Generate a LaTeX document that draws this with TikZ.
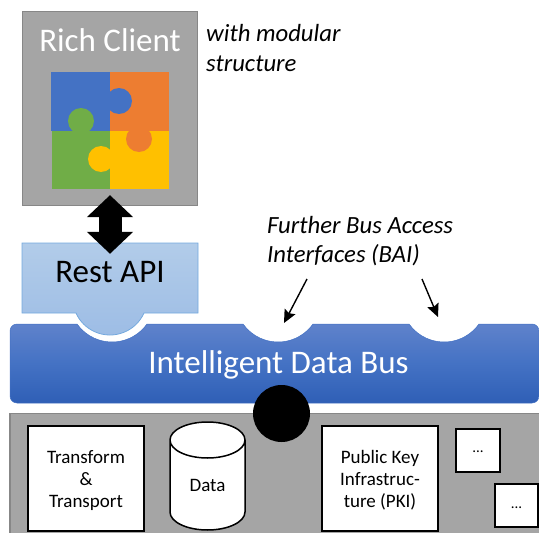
\documentclass[tikz,border=0pt]{standalone}
\usepackage{fontspec}
\setmainfont{Carlito}
\usetikzlibrary{arrows.meta}
\definecolor{panelgray}{HTML}{A5A5A5}
\definecolor{panelline}{HTML}{878787}
\definecolor{pblue}{HTML}{4472C4}
\definecolor{porange}{HTML}{ED7D31}
\definecolor{pgreen}{HTML}{70AD47}
\definecolor{pyellow}{HTML}{FFC000}
\definecolor{bustop}{HTML}{5F82CB}
\definecolor{busbot}{HTML}{2F5FB6}
\definecolor{resttop}{HTML}{B2CCE9}
\definecolor{restbot}{HTML}{9CBCE5}
\definecolor{restedge}{HTML}{74A9DE}
\tikzset{
  panel/.style={draw=panelline,line width=1.3pt,fill=panelgray},
  whitebox/.style={draw=black,line width=1.5pt,fill=white,inner sep=0pt,align=center,font=\fontsize{19}{22}\selectfont},
  dotbox/.style={draw=black,line width=1.5pt,fill=white,inner sep=0pt,text depth=0pt},
  notearrow/.style={draw=black,line width=1.4pt,-{Stealth[length=13pt,width=12pt,inset=2pt]}},
  note/.style={anchor=west,inner sep=0pt,font=\fontsize{24.7}{29}\selectfont\itshape},
  big/.style={inner sep=0pt,font=\fontsize{33}{36}\selectfont},
}
\begin{document}
\begin{tikzpicture}[x=1pt,y=-1pt]
\useasboundingbox (0,0) rectangle (539,533);
\clip (0,0) rectangle (539,533);
% bottom panel
\path[panel] (10,413.5) -- (545,413.5) -- (545,540) -- (10,540) -- cycle;
% rich client
\node[panel,minimum width=175pt,minimum height=194pt,inner sep=0pt] (client) at (110,108.5) {};
\node[big,text=white] (clienttitle) at (110,40) {Rich Client};
% puzzle
\fill[pblue] (51,72) rectangle (110,131);
\fill[porange] (110,72) rectangle (169,131);
\fill[pgreen] (52,131) rectangle (110,189);
\fill[pyellow] (110,131) rectangle (169,189);
\fill[pblue] (119,101) circle (13);
\fill[pgreen] (81,121) circle (13);
\fill[porange] (139,139) circle (13);
\fill[pyellow] (101,159) circle (13);
% bus
\path[draw=pblue,line width=0.5pt,top color=bustop,bottom color=busbot,middle color=pblue]
  (10,331) arc[start angle=180,delta angle=-90,radius=7pt]
  -- (77,324) arc[start angle=215.5,delta angle=109,radius=43pt]
  -- (243,324) arc[start angle=215.5,delta angle=109,radius=43pt]
  -- (409,324) arc[start angle=215.5,delta angle=109,radius=43pt]
  -- (532,324) arc[start angle=90,delta angle=-90,radius=7pt]
  -- (539,396) arc[start angle=0,delta angle=-90,radius=7pt]
  -- (17,403) arc[start angle=270,delta angle=-90,radius=7pt] -- cycle;
\node[big,text=white] (bus) at (278.5,365) {Intelligent Data Bus};
\coordinate (notchtwo) at (284,323);
\coordinate (notchthree) at (438,317);
% rest api
\path[draw=restedge,line width=0.8pt,top color=resttop,bottom color=restbot]
  (22,243) -- (198,243) -- (198,313) -- (144,313)
  arc[start angle=335.8,delta angle=-131.6,radius=37.3pt]
  -- (22,313) -- cycle;
\node[minimum width=176pt,minimum height=70pt,inner sep=0pt] (rest) at (110,278) {};
\node[big] (resttext) at (110,272) {Rest API};
% double arrow
\draw[line width=23pt,{Triangle[width=45pt,length=22pt]}-{Triangle[width=45pt,length=22pt]},shorten <=-11pt,shorten >=-11pt] (client.south) -- (rest.north);
% black circle
\node[circle,fill=black,inner sep=0pt,minimum size=57pt] (dot) at (281.5,413.5) {};
% boxes
\node[whitebox,minimum width=116pt,minimum height=105pt] (tt) at (86,478.5) {\rule{0pt}{17pt}Transform\\\&\\Transport};
\path[draw=black,line width=1.5pt,fill=white]
  (170,440) -- (170,512) arc[start angle=180,delta angle=180,x radius=37.5pt,y radius=18pt]
  -- (245,440) arc[start angle=0,delta angle=180,x radius=37.5pt,y radius=18pt] -- cycle
  (170,440) arc[start angle=180,delta angle=180,x radius=37.5pt,y radius=18pt];
\node[inner sep=0pt,font=\fontsize{19}{22}\selectfont] (data) at (207.5,485) {Data};
\node[whitebox,minimum width=116pt,minimum height=105pt] (pki) at (380,478.5) {\rule{0pt}{17pt}Public Key\\Infrastruc-\\ture (PKI)};
\node[dotbox,minimum width=44pt,minimum height=43pt] (more) at (478,450.5) {};
\node[dotbox,minimum width=43pt,minimum height=43pt] (moreb) at (516.5,505.5) {};
\node[inner sep=0pt,font=\fontsize{15}{18}\selectfont] (moredots) at (478,452) {...};
\node[inner sep=0pt,font=\fontsize{15}{18}\selectfont] (morebdots) at (516.5,508) {...};
% notes
\node[note] (modular) at (206,33.5) {with modular};
\node[note] (structure) at (206,64) {structure};
\node[note] (further) at (267,225.5) {Further Bus Access};
\node[note] (bai) at (267,255) {Interfaces (BAI)};
\coordinate (starttwo) at (307,279);
\coordinate (startthree) at (422,279);
\draw[notearrow] (starttwo) -- (notchtwo);
\draw[notearrow] (startthree) -- (notchthree);
\end{tikzpicture}
\end{document}
